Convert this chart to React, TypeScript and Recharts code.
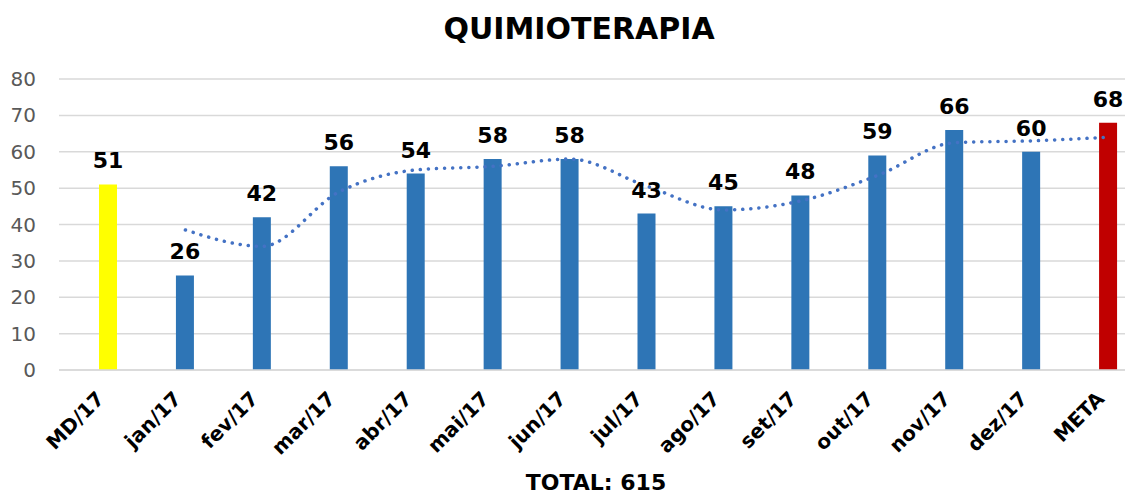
import React from "react";
import {
  ComposedChart,
  Bar,
  Line,
  XAxis,
  YAxis,
  CartesianGrid,
  LabelList,
  Cell,
} from "recharts";

const categories = ["MD/17", "jan/17", "fev/17", "mar/17", "abr/17", "mai/17", "jun/17", "jul/17", "ago/17", "set/17", "out/17", "nov/17", "dez/17", "META"];
const values = [51, 26, 42, 56, 54, 58, 58, 43, 45, 48, 59, 66, 60, 68];
// dotted trend line (2-period moving average as shown in the picture)
const trend = [null, 38.5, 34, 49, 55, 56, 58, 50.5, 44, 46.5, 53.5, 62.5, 63, 64];
const barColors = ["#FFFF00", "#2E75B6", "#2E75B6", "#2E75B6", "#2E75B6", "#2E75B6", "#2E75B6", "#2E75B6", "#2E75B6", "#2E75B6", "#2E75B6", "#2E75B6", "#2E75B6", "#C00000"];
const yTicks = [0, 10, 20, 30, 40, 50, 60, 70, 80];

const data = categories.map((name, i) => ({ name, value: values[i], trend: trend[i] }));

const FONT = "Tahoma, Verdana, 'DejaVu Sans', sans-serif";

function XTick(props: any) {
  const { payload } = props;
  const x = props.x - 3;
  const y = 400;
  return (
    <text
      x={x}
      y={y}
      transform={`rotate(-45, ${x}, ${y})`}
      textAnchor="end"
      fontFamily={FONT}
      fontWeight="bold"
      fontSize={20}
      fill="#000"
    >
      {payload.value}
    </text>
  );
}

export default function App() {
  return (
    <div
      style={{
        position: "absolute",
        left: 0,
        top: 0,
        width: 1125,
        height: 495,
        overflow: "hidden",
        background: "#fff",
      }}
    >
      <div
        style={{
          position: "absolute",
          left: 0,
          width: 1158,
          top: 11,
          textAlign: "center",
          fontFamily: FONT,
          fontWeight: "bold",
          fontSize: 30,
          color: "#000",
        }}
      >
        QUIMIOTERAPIA
      </div>
      <ComposedChart
        width={1150}
        height={495}
        data={data}
        margin={{ top: 79, right: 3, bottom: 0, left: 0 }}
        style={{ position: "absolute", left: 0, top: 0 }}
      >
        <CartesianGrid vertical={false} stroke="#D9D9D9" strokeWidth={1.5} />
        <XAxis
          dataKey="name"
          interval={0}
          height={125}
          padding={{ left: 11, right: 0 }}
          axisLine={{ stroke: "#D9D9D9", strokeWidth: 1.5 }}
          tickLine={false}
          tick={<XTick />}
        />
        <YAxis
          domain={[0, 80]}
          ticks={yTicks}
          width={59}
          axisLine={false}
          tickLine={false}
          tickSize={0}
          tickMargin={23}
          tick={{ fontFamily: FONT, fontSize: 20, fill: "#595959" }}
        />
        <Bar dataKey="value" barSize={18} isAnimationActive={false}>
          {data.map((d, i) => (
            <Cell key={d.name} fill={barColors[i]} />
          ))}
          <LabelList
            dataKey="value"
            position="top"
            offset={16}
            style={{ fontFamily: FONT, fontWeight: "bold", fontSize: 22, fill: "#000" }}
          />
        </Bar>
        <Line
          dataKey="trend"
          type="monotone"
          stroke="#4472C4"
          strokeWidth={3.5}
          strokeDasharray="0.1 8"
          strokeLinecap="round"
          dot={false}
          activeDot={false}
          isAnimationActive={false}
        />
      </ComposedChart>
      <div
        style={{
          position: "absolute",
          left: 0,
          width: 1192,
          top: 470,
          textAlign: "center",
          fontFamily: FONT,
          fontWeight: "bold",
          fontSize: 22,
          color: "#000",
        }}
      >
        TOTAL: 615
      </div>
    </div>
  );
}
